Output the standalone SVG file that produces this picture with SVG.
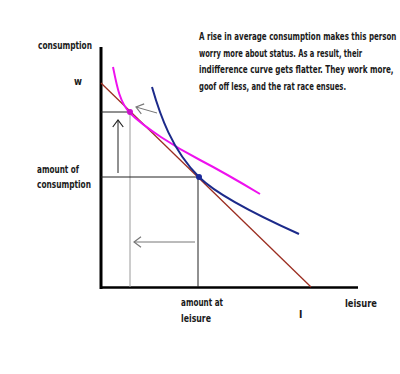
<svg xmlns="http://www.w3.org/2000/svg" width="400" height="374" viewBox="0 0 400 374">
<style>
text{font-family:"DejaVu Sans Condensed","DejaVu Sans",sans-serif;font-weight:bold;font-size:11px;fill:#1a1a1a;}
.guide{stroke:#222;stroke-width:1;fill:none;}
.gray{stroke:#9a9a9a;stroke-width:1;fill:none;}
.arr{stroke-width:1;fill:none;marker-end:url(#ah);}
</style>
<defs>
<marker id="ah" markerUnits="userSpaceOnUse" markerWidth="14" markerHeight="14" viewBox="-8 -6 10 12" refX="0" refY="0" orient="auto">
<path d="M-6,-4.5 L0,0 L-6,4.5" fill="none" stroke="context-stroke" stroke-width="1"/>
</marker>
</defs>
<rect width="400" height="374" fill="#fff"/>
<g id="axes">
<line x1="101" y1="47" x2="101" y2="289" stroke="#000" stroke-width="3"/>
<line x1="100" y1="287.5" x2="358" y2="287.5" stroke="#000" stroke-width="2.5"/>
</g>
<g id="connectors">
<line class="guide" x1="101" y1="112" x2="130" y2="112"/>
<line class="gray" x1="130" y1="112" x2="130" y2="287"/>
<line class="guide" x1="101" y1="177" x2="199" y2="177"/>
<line class="guide" x1="198" y1="177" x2="198" y2="287"/>
<line class="arr" stroke="#222" x1="118" y1="173" x2="118" y2="120"/>
<line class="arr" stroke="#777" x1="195" y1="242" x2="134" y2="242"/>
<line class="arr" stroke="#777" x1="157" y1="113" x2="136" y2="107"/>
</g>
<g id="budget-line">
<line x1="101" y1="83" x2="311" y2="287" stroke="#9b2d20" stroke-width="1.3"/>
</g>
<g id="magenta-curve">
<path d="M113,67 C117,87 120,103 130,113 C145,128 175,147 200,160 C220,170.4 240,182 260,194" fill="none" stroke="#ee11ee" stroke-width="2"/>
<circle cx="130" cy="112" r="3" fill="#cc11cc"/>
</g>
<g id="blue-curve">
<path d="M152,87 C160,115 172,150 199,177 C213,191 250,212 299,234" fill="none" stroke="#1c2a8a" stroke-width="2"/>
<circle cx="199" cy="177" r="3" fill="#1c2a9a"/>
</g>
<g id="labels">
<text x="38" y="49" textLength="54" lengthAdjust="spacingAndGlyphs">consumption</text>
<text x="74" y="85" textLength="8" lengthAdjust="spacingAndGlyphs">w</text>
<text x="37" y="173" textLength="42" lengthAdjust="spacingAndGlyphs">amount of</text>
<text x="37" y="188" textLength="54" lengthAdjust="spacingAndGlyphs">consumption</text>
<text x="181" y="306" textLength="42" lengthAdjust="spacingAndGlyphs">amount at</text>
<text x="181" y="322" textLength="30" lengthAdjust="spacingAndGlyphs">leisure</text>
<text x="299" y="318">l</text>
<text x="345" y="307" textLength="32" lengthAdjust="spacingAndGlyphs">leisure</text>
</g>
<g id="caption" transform="translate(199,0) scale(0.7,1)">
<text x="0" y="40" textLength="282" lengthAdjust="spacingAndGlyphs">A rise in average consumption makes this person</text>
<text x="0" y="57" textLength="233" lengthAdjust="spacingAndGlyphs">worry more about status. As a result, their</text>
<text x="0" y="73" textLength="278" lengthAdjust="spacingAndGlyphs">indifference curve gets flatter. They work more,</text>
<text x="0" y="90" textLength="210" lengthAdjust="spacingAndGlyphs">goof off less, and the rat race ensues.</text>
</g>
</svg>
